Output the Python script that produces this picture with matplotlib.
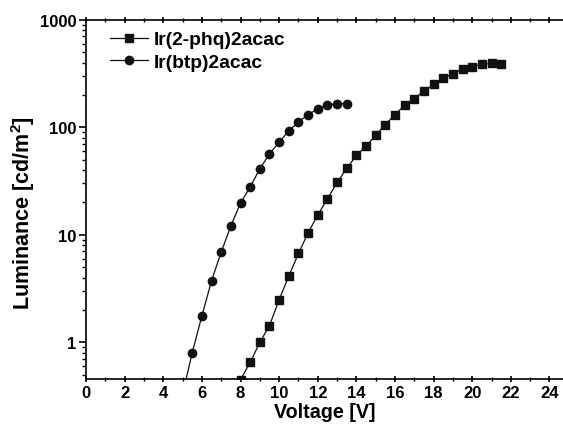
import matplotlib
matplotlib.use("Agg")
import matplotlib.pyplot as plt
from matplotlib.ticker import MultipleLocator, LogLocator, FixedLocator, FixedFormatter, NullFormatter

plt.rcParams['font.family'] = ['Liberation Sans', 'DejaVu Sans']
plt.rcParams['font.weight'] = 'bold'
plt.rcParams['mathtext.fontset'] = 'custom'
plt.rcParams['mathtext.rm'] = 'Liberation Sans:bold'
plt.rcParams['mathtext.bf'] = 'Liberation Sans:bold'
plt.rcParams['mathtext.it'] = 'Liberation Sans:bold:italic'

# Ir(2-phq)2acac (squares)
v_phq = [8.0, 8.5, 9.0, 9.5, 10.0, 10.5, 11.0, 11.5, 12.0, 12.5, 13.0, 13.5, 14.0, 14.5,
         15.0, 15.5, 16.0, 16.5, 17.0, 17.5, 18.0, 18.5, 19.0, 19.5, 20.0, 20.5, 21.0, 21.5]
l_phq = [0.45, 0.65, 1.0, 1.43, 2.49, 4.13, 6.72, 10.4, 15.3, 21.5, 30.7, 41.4, 54.7, 66.3,
         84.6, 106, 131, 160, 185, 217, 250, 284, 316, 345, 367, 384, 392, 386]

# Ir(btp)2acac (circles)
v_btp = [5.0, 5.5, 6.0, 6.5, 7.0, 7.5, 8.0, 8.5, 9.0, 9.5, 10.0, 10.5, 11.0, 11.5,
         12.0, 12.5, 13.0, 13.5]
l_btp = [0.33, 0.80, 1.76, 3.74, 6.9, 12.1, 19.7, 27.9, 41.0, 56.6, 72.7, 92.7, 112, 131,
         148, 160, 166, 166]

labels = ['Ir(2-phq)2acac', 'Ir(btp)2acac']
ytick_vals = [1, 10, 100, 1000]
ytick_labels = ['1', '10', '100', '1000']

fig = plt.figure(figsize=(5.63, 4.35), dpi=100)
ax = fig.add_axes([0.1528, 0.1264, 0.8472, 0.826])

ax.plot(v_phq, l_phq, color='#111111', marker='s', markersize=5.2, lw=0.9,
        label=labels[0], clip_on=True)
ax.plot(v_btp, l_btp, color='#111111', marker='o', markersize=6, lw=0.9,
        label=labels[1], clip_on=True)

ax.set_yscale('log')
ax.set_xlim(0, 24.7)
ax.set_ylim(0.456, 1000)

ax.xaxis.set_major_locator(MultipleLocator(2))
ax.xaxis.set_minor_locator(MultipleLocator(1))
ax.yaxis.set_major_locator(FixedLocator(ytick_vals))
ax.yaxis.set_major_formatter(FixedFormatter(ytick_labels))
ax.yaxis.set_minor_locator(LogLocator(base=10, subs=range(2, 10), numticks=20))
ax.yaxis.set_minor_formatter(NullFormatter())

ax.spines['right'].set_visible(False)
for s in ['left', 'bottom', 'top']:
    ax.spines[s].set_linewidth(1.2)

ax.tick_params(axis='both', which='major', direction='out', length=5, width=1.2,
               labelsize=12, pad=2)
ax.tick_params(axis='both', which='minor', direction='out', length=3, width=1.0)
ax.tick_params(axis='x', which='both', top=True, direction='inout')
ax.tick_params(axis='y', which='both', right=False)

for lab in ax.get_xticklabels() + ax.get_yticklabels():
    lab.set_fontweight('bold')

ax.set_xlabel('Voltage [V]', fontsize=14.2, fontweight='bold', labelpad=1)
ax.set_ylabel(r'Luminance [cd/m$^{2}$]', fontsize=15.5, fontweight='bold')
ax.yaxis.set_label_coords(-0.102, 0.465)

leg = ax.legend(loc='upper left', frameon=False, fontsize=13.9, handlelength=1.95,
                handletextpad=0.3, labelspacing=0.27, borderpad=0, borderaxespad=0,
                bbox_to_anchor=(0.050, 0.969))
for t in leg.get_texts():
    t.set_fontweight('bold')

fig.savefig('out.png', dpi=100)
